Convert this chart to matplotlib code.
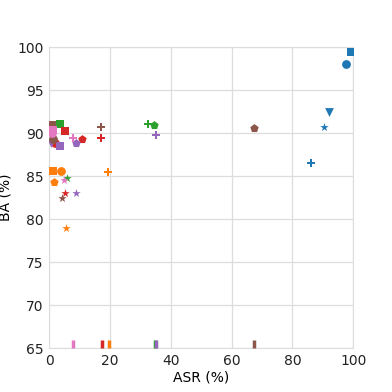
import numpy as np
import matplotlib
matplotlib.use("Agg")
import matplotlib.pyplot as plt

# marker per setting, one colour per method
markers = ['o', 's', 'v', '*', 'P', 'p', '|']
colors = ['tab:blue', 'tab:orange', 'tab:green', 'tab:red',
          'tab:purple', 'tab:brown', 'tab:pink']

# ASR / BA values, one entry per marker (None = not shown)
asr_blue = [97.7, 99.3, 92.1, 90.5, 86.2, None, None]
ba_blue = [98.0, 99.4, 92.4, 90.7, 86.5, None, None]

asr_orange = [4.0, 1.3, None, 5.6, 19.4, 1.6, 19.6]
ba_orange = [85.6, 85.6, None, 79.0, 85.5, 84.3, 65.5]

asr_green = [None, 3.6, None, 6.0, 32.6, 34.5, 34.9]
ba_green = [None, 91.0, None, 84.8, 91.0, 90.9, 65.5]

asr_red = [2.0, 5.3, None, 5.3, 17.1, 10.9, 17.4]
ba_red = [88.8, 90.2, None, 83.0, 89.4, 89.3, 65.5]

asr_purple = [None, 3.6, 0.5, 8.9, 35.2, 8.9, 35.3]
ba_purple = [None, 88.5, 88.8, 83.0, 89.8, 88.8, 65.5]

asr_brown = [1.2, 1.0, None, 4.3, 17.1, 67.4, 67.4]
ba_brown = [89.3, 90.9, None, 82.4, 90.7, 90.6, 65.5]

asr_pink = [1.0, 1.3, None, 4.9, 7.9, None, 8.0]
ba_pink = [90.0, 90.3, None, 84.5, 89.4, None, 65.5]

asr_all = [asr_blue, asr_orange, asr_green, asr_red, asr_purple, asr_brown, asr_pink]
ba_all = [ba_blue, ba_orange, ba_green, ba_red, ba_purple, ba_brown, ba_pink]

fig = plt.figure(figsize=(3.92, 3.92), dpi=100)
ax = fig.add_axes([0.125, 0.112, 0.776, 0.768])

for c, xs, ys in zip(colors, asr_all, ba_all):
    for m, x, y in zip(markers, xs, ys):
        if x is None:
            continue
        if m == '|':
            ax.scatter(x, y, marker=m, color=c, s=40, linewidths=2.5, zorder=3)
        else:
            ax.scatter(x, y, marker=m, color=c, s=40, linewidths=0, zorder=3)

ax.set_xlim(0, 100)
ax.set_ylim(65, 100)
ax.set_xticks([0, 20, 40, 60, 80, 100])
ax.set_yticks([65, 70, 75, 80, 85, 90, 95, 100])
ax.set_xlabel('ASR (%)', fontsize=10, labelpad=2)
ax.set_ylabel('BA (%)', fontsize=10, labelpad=2)
ax.yaxis.set_label_coords(-0.12, 0.5)
ax.tick_params(labelsize=10, length=0, pad=4, colors='#222222')

ax.grid(True, color='#dddddd', lw=0.9)
ax.set_axisbelow(True)
for s in ax.spines.values():
    s.set_color('#dddddd')

fig.savefig('out.png', dpi=100)
